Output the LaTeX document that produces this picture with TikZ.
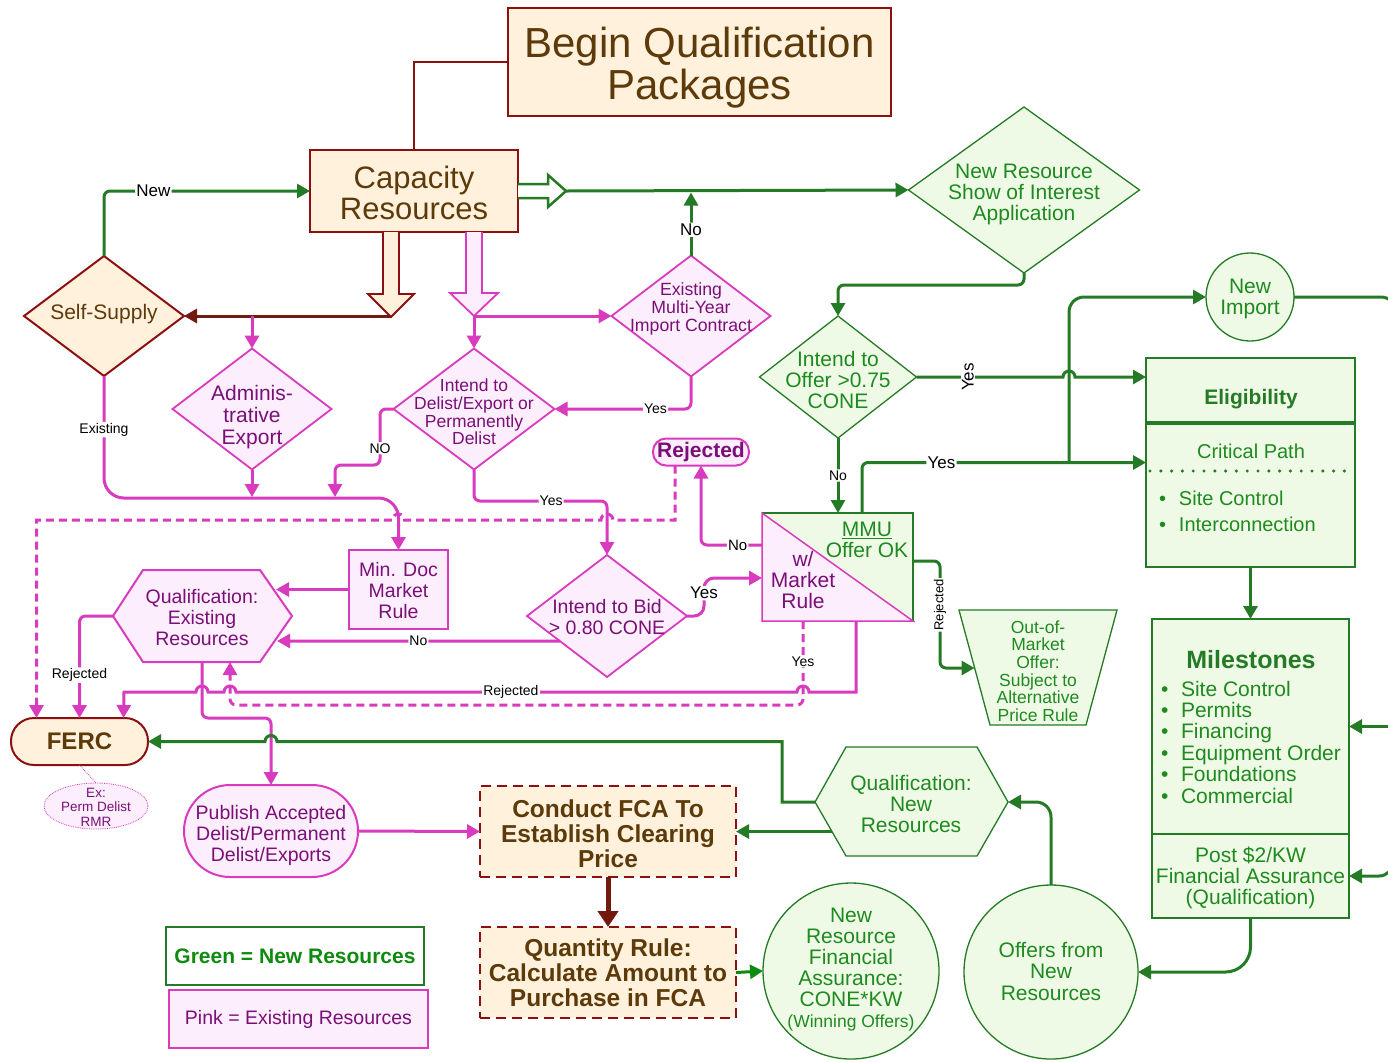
\documentclass[tikz,border=0pt]{standalone}
\usepackage{fontspec}
\setmainfont{Liberation Sans}
\usetikzlibrary{arrows.meta,shapes.geometric,calc}
\definecolor{dred}{HTML}{8B1010}
\definecolor{brn}{HTML}{5C3A0A}
\definecolor{cream}{HTML}{FFF1DC}
\definecolor{gline}{HTML}{257A25}
\definecolor{gtext}{HTML}{1F8A1F}
\definecolor{gfill}{HTML}{EEFAE6}
\definecolor{pline}{HTML}{D93BBE}
\definecolor{pfill}{HTML}{FCEEFC}
\definecolor{ptext}{HTML}{7A0F78}
\definecolor{fcared}{HTML}{721A10}
\definecolor{brightg}{HTML}{0E8A0E}
\newcommand{\fsz}[2]{\fontsize{#1}{#2}\selectfont}
\tikzset{
  every node/.style={inner sep=0pt, outer sep=0pt},
  tipA/.style={-{Triangle[length=13pt,width=14pt]}},
  gcon/.style={draw=gline, line width=3pt, rounded corners=6pt, tipA},
  pcon/.style={draw=pline, line width=3pt, rounded corners=6pt, tipA},
  lbl/.style={fill=white, text=black, inner sep=1.2pt},
  gdia/.style={diamond, draw=gline, fill=gfill, line width=1.3pt},
  pdia/.style={diamond, draw=pline, fill=pfill, line width=1.8pt},
  gtxt/.style={text=gtext, align=center},
  ptxt/.style={text=ptext, align=center},
  btxt/.style={text=brn, align=center},
  gbox/.style={draw=gline, fill=gfill, line width=1.3pt},
  pbox/.style={draw=pline, fill=pfill, line width=2pt},
  cbox/.style={draw=dred, fill=cream, line width=2pt},
  dashy/.style={dash pattern=on 8pt off 5pt},
}
\begin{document}
\begin{tikzpicture}[x=1pt,y=-1pt]
\useasboundingbox (0,0) rectangle (1388,1061);
\fill[white] (0,0) rectangle (1388,1061);

% ---------- top boxes ----------
\node[cbox, minimum width=383pt, minimum height=108pt] (begin) at (699.5,62) {};
\node[btxt, font=\fsz{42}{42}] (begint) at (699.5,68) {Begin Qualification\\Packages};
\node[cbox, minimum width=208pt, minimum height=82pt] (cap) at (414,191) {};
\node[btxt, font=\fsz{31}{31}] (capt) at (414,193) {Capacity\\Resources};
\draw[dred, line width=1.5pt] (begin.west) -| (cap.north);

% ---------- diamonds ----------
\node[diamond, cbox, minimum width=160pt, minimum height=120pt] (ss) at (104,316) {};
\node[btxt, font=\fsz{21}{21}] (sst) at (104,314) {Self-Supply};

\node[gdia, minimum width=231pt, minimum height=166pt] (nrs) at (1024,190) {};
\node[gtxt, font=\fsz{21}{21}] (nrst) at (1024,194) {New Resource\\Show of Interest\\Application};

\node[pdia, minimum width=159pt, minimum height=121pt] (emc) at (691,316) {};
\node[ptxt, font=\fsz{17.7}{18}] (emct) at (691,309) {Existing\\Multi-Year\\Import Contract};

\node[pdia, minimum width=159pt, minimum height=121pt] (admin) at (252,409) {};
\node[ptxt, font=\fsz{21}{22}] (admint) at (252,417) {Adminis-\\trative\\Export};

\node[pdia, minimum width=161pt, minimum height=121pt] (del) at (474,409) {};
\node[ptxt, font=\fsz{17.5}{17.7}] (delt) at (474,412) {Intend to\\Delist/Export or\\Permanently\\Delist};

\node[pdia, minimum width=160pt, minimum height=122pt] (bid) at (607,616) {};
\node[ptxt, font=\fsz{19.5}{21}] (bidt) at (607,617) {Intend to Bid\\> 0.80 CONE};

\node[gdia, minimum width=157pt, minimum height=122pt] (io) at (838,377) {};
\node[gtxt, font=\fsz{21}{21}] (iot) at (838,380) {Intend to\\Offer >0.75\\CONE};

% ---------- pink boxes ----------
\node[draw=pline, fill=pfill, line width=2pt, rounded corners=13pt, minimum width=96pt, minimum height=27pt, text=ptext, font=\bfseries\fsz{21}{21}] (rej) at (701,452) {Rejected};
\node[pbox, minimum width=99pt, minimum height=79pt] (md) at (398.5,589.5) {};
\node[ptxt, font=\fsz{19.5}{21}] (mdt) at (398.5,591) {Min. Doc\\Market\\Rule};
\draw[pbox] (113,616) -- (143,570) -- (260,570) -- (292,616) -- (260,662) -- (143,662) -- cycle;
\node[ptxt, font=\fsz{19.5}{21}] (qe) at (202,618) {Qualification:\\Existing\\Resources};
\node[pbox, rounded corners=46pt, minimum width=174pt, minimum height=92pt] (pub) at (271,831) {};
\node[ptxt, font=\fsz{19.5}{21}] (pubt) at (271,835) {Publish Accepted\\Delist/Permanent\\Delist/Exports};

% ---------- FERC ----------
\node[cbox, rounded corners=23pt, minimum width=137pt, minimum height=47pt, text=brn, font=\bfseries\fsz{24}{24}] (ferc) at (79.5,741.5) {FERC};
\node[ellipse, draw=pline, densely dotted, fill=pfill, line width=0.8pt, minimum width=104pt, minimum height=46pt] (ex) at (96,806) {};
\node[ptxt, font=\fsz{13.5}{14.5}] (ext) at (96,807) {Ex:\\Perm Delist\\RMR};
\draw[pline, densely dotted, line width=0.8pt] (ferc.south) -- (ex.north);

% ---------- MMU ----------
\node[minimum width=151pt, minimum height=108pt] (mmu) at (837.5,567) {};
\fill[pfill] (mmu.north west) -- (mmu.south east) -- (mmu.south west) -- cycle;
\fill[gfill] (mmu.north west) -- (mmu.north east) -- (mmu.south east) -- cycle;
\draw[gline, line width=1.3pt] (mmu.north west) -- (mmu.north east) -- (mmu.south east);
\draw[pline, line width=1.5pt] (mmu.north west) -- (mmu.south west) -- (mmu.south east) -- cycle;
\node[gtxt, font=\fsz{21}{21}] (mmut1) at (867,540) {\underline{MMU}\\Offer OK};
\node[ptxt, font=\fsz{21}{21}] (mmut2) at (803,580) {w/\\Market\\Rule};

% ---------- green right side ----------
\node[circle, gbox, minimum size=88pt] (ni) at (1250,297) {};
\node[gtxt, font=\fsz{21}{21}] (nit) at (1250,299) {New\\Import};

\node[gbox, minimum width=209pt, minimum height=209pt] (elig) at (1250.5,462.5) {};
\draw[gline, line width=3.5pt] ($(elig.north west)+(0,65)$) -- ($(elig.north east)+(0,65)$);
\draw[gline, line width=3.4pt, line cap=round, dash pattern=on 0pt off 10.8pt] ($(elig.north west)+(4,113)$) -- ($(elig.north east)+(0,113)$);
\node[text=gline, font=\bfseries\fsz{21}{21}] (eligh) at (1251,399) {Eligibility};
\node[gtxt, font=\fsz{20}{20}] (eligc) at (1251,451) {Critical Path};
\node[text=gtext, align=left, anchor=west, font=\fsz{20}{26}] (eligl) at (1159,511) {\makebox[20pt][l]{\textbullet}Site Control\\\makebox[20pt][l]{\textbullet}Interconnection};

\node[gbox, minimum width=197pt, minimum height=215pt] (ms) at (1250.5,726.5) {};
\node[gbox, minimum width=197pt, minimum height=84pt] (post) at (1250.5,876) {};
\node[gtxt, font=\fsz{21}{21}] (postt) at (1250.5,878) {Post \$2/KW\\Financial Assurance\\(Qualification)};
\node[text=gline, font=\bfseries\fsz{25}{25}] (msh) at (1251,660) {Milestones};
\node[text=gtext, align=left, anchor=west, font=\fsz{21}{21.4}] (msl) at (1161,742) {\makebox[20pt][l]{\textbullet}Site Control\\\makebox[20pt][l]{\textbullet}Permits\\\makebox[20pt][l]{\textbullet}Financing\\\makebox[20pt][l]{\textbullet}Equipment Order\\\makebox[20pt][l]{\textbullet}Foundations\\\makebox[20pt][l]{\textbullet}Commercial};

\draw[gbox] (959,610) -- (1117,610) -- (1086,725) -- (990,725) -- cycle;
\node[gtxt, font=\fsz{17.5}{17.6}] (oom) at (1038,671) {Out-of-\\Market\\Offer:\\Subject to\\Alternative\\Price Rule};

\draw[gbox] (815,802) -- (846,747) -- (977,747) -- (1008,802) -- (977,856) -- (846,856) -- cycle;
\node[gtxt, font=\fsz{21}{21}] (qn) at (911,804) {Qualification:\\New\\Resources};

\node[circle, gbox, minimum size=174pt] (ofr) at (1051,972) {};
\node[gtxt, font=\fsz{21}{21.5}] (ofrt) at (1051,971) {Offers from\\New\\Resources};
\node[circle, gbox, minimum size=176pt] (nrfa) at (851,971) {};
\node[gtxt, font=\fsz{21}{21}] (nrfat) at (851,970) {New\\Resource\\Financial\\Assurance:\\CONE*KW\\{\fsz{17.5}{20}(Winning Offers)}};

% ---------- FCA boxes ----------
\node[cbox, line width=1.8pt, dash pattern=on 10pt off 6pt, minimum width=256pt, minimum height=91pt] (fca) at (608,831.5) {};
\node[btxt, font=\bfseries\fsz{24.5}{25}] (fcat) at (608,834) {Conduct FCA To\\Establish Clearing\\Price};
\node[cbox, line width=1.8pt, dash pattern=on 10pt off 6pt, minimum width=256pt, minimum height=91pt] (qr) at (608,972.5) {};
\node[btxt, font=\bfseries\fsz{24.5}{25}] (qrt) at (608,973) {Quantity Rule:\\Calculate Amount to\\Purchase in FCA};

% ---------- legend ----------
\node[draw=gline, line width=1.5pt, fill=white, minimum width=258pt, minimum height=58pt, text=brightg, font=\bfseries\fsz{21}{21}] (lgg) at (295,956) {Green = New Resources};
\node[pbox, line width=2.5pt, minimum width=259pt, minimum height=58pt, text=ptext, font=\fsz{19.5}{19.5}] (lgp) at (298.5,1019) {Pink = Existing Resources};

% ---------- hollow arrows ----------
\draw[dred, fill=cream, line width=1.8pt] (383,232) -- (383,294) -- (368,294) -- (391,317) -- (414,294) -- (399,294) -- (399,232);
\draw[pline, fill=pfill, line width=1.8pt] (466,232) -- (466,293) -- (450,293) -- (474,316) -- (498,293) -- (482,293) -- (482,232);
\draw[gline, fill=white, line width=2.5pt] (518,184) -- (548,184) -- (548,175) -- (566,191) -- (548,207) -- (548,198) -- (518,198);
\coordinate (ctip) at (391,316);
\coordinate (cbr) at (252,316);
\coordinate (ptip) at (474,316);
\coordinate (gtip) at (566,191);

% ---------- connectors ----------
\draw[draw=fcared, line width=3pt, tipA] (ctip) -- (ss.east);
\draw[pcon] (cbr) -- (admin.north);
\draw[pcon] (ptip) -- (emc.west);
\draw[pcon] (ptip) -- (del.north);
\draw[gcon] (gtip) -- (nrs.west);
\draw[gcon] (ss.north) |- node[lbl, pos=0.62, font=\fsz{17}{17}] (lnew) {New} (cap.west);
\draw[gcon, shorten >=1.5pt] (emc.north) -- node[lbl, pos=0.4, font=\fsz{17}{17}] (lno1) {No} (emc.north |- gtip);
\draw[pcon] (emc.south) |- node[lbl, pos=0.63, font=\fsz{14}{14}] (lyes1) {Yes} (del.east);

\coordinate (j1) at (252,497);
\draw[pcon] (admin.south) -- (j1);
\draw[pcon, rounded corners=20pt] (ss.south) -- node[lbl, pos=0.44, font=\fsz{14}{14}] (lexi) {Existing} (104,498) -- (398.5,498) -- (md.north);
\coordinate (j2) at (335,497);
\draw[pcon] (del.west) -- (380,409) -- node[lbl, pos=0.7, font=\fsz{14}{14}] (lno2) {NO} (380,465) -- (335,465) -- (j2);
\draw[pcon] (del.south) -- (474,501) -- node[lbl, pos=0.58, font=\fsz{14}{14}] (lyes2) {Yes} (607,501) -- (bid.north);

\draw[pcon, dashy, sharp corners] ([xshift=-26pt]rej.south) -- (675,520) -- (613,520) arc[start angle=0, end angle=-180, radius=6] -- (404.5,520) arc[start angle=0, end angle=-180, radius=6] -- (36.5,520) -- ([xshift=-43pt]ferc.north);

\coordinate (qew) at (113,616);
\draw[pcon] (qew) -| node[lbl, pos=0.79, font=\fsz{14}{14}] (lrej1) {Rejected} (ferc.north);
\coordinate (qene) at (276,589.5);
\draw[pcon] (md.west) -- (qene);
\coordinate (bidsw) at ($(bid.west)!0.41!(bid.south)$);
\coordinate (qese) at (277,641);
\draw[pcon] (bidsw) -- node[lbl, font=\fsz{14}{14}] (lno3) {No} (qese);

\coordinate (mmuw2) at ($(mmu.north west)+(0,65)$);
\draw[pcon, rounded corners=10pt] (bid.east) -- (704,616) -- node[lbl, pos=0.6, font=\fsz{17}{17}] (lyes3) {Yes} (704,578) -- (mmuw2);
\coordinate (mmuw1) at ($(mmu.north west)+(0,32)$);
\draw[pcon] (mmuw1) -| node[lbl, pos=0.2, font=\fsz{15}{15}] (lno4) {No} (rej.south);

\coordinate (mmun2) at ($(mmu.north west)+(100,0)$);
\draw[gcon] (mmun2) |- node[lbl, pos=0.64, font=\fsz{17}{17}] (lyes5) {Yes} (elig.west);
\draw[gcon] (nrs.south) -- ([yshift=-12pt]nrs.south) -| (io.north);
\draw[gcon] (io.south) -- node[lbl, pos=0.5, font=\fsz{14}{14}] (lno5) {No} (io.south |- mmu.north);
\draw[gcon, sharp corners] (io.east) -- node[lbl, rotate=90, pos=0.35, font=\fsz{17}{17}] (lyes4) {Yes} (1063,377) arc[start angle=180, end angle=360, radius=6] -- (io.east -| elig.west);

\coordinate (jn) at (1069,462.5);
\draw[gcon, rounded corners=15pt] (jn) |- (ni.west);
\coordinate (offA) at (1396,340);
\draw[draw=gline, line width=3pt, rounded corners=15pt] (ni.east) -| (offA);
\draw[gcon] (elig.south) -- (ms.north);
\coordinate (offB) at (1396,726.5);
\draw[gcon] (offB) -- (ms.east);
\coordinate (offC) at (1393,850);
\draw[gcon, rounded corners=14pt] (offC) |- (post.east);
\draw[gcon, rounded corners=25pt] (post.south) |- (ofr.east);

\coordinate (mmue) at ($(mmu.north east)+(0,48)$);
\coordinate (oomw) at (974.6,668);
\draw[gcon] (mmue) -- (940,561) -- node[lbl, rotate=90, pos=0.41, font=\fsz{13}{13}] (lrej2) {Rejected} (940,668) -- (oomw);

\coordinate (mmus1) at ($(mmu.south west)+(41,0)$);
\coordinate (mmus2) at ($(mmu.south west)+(94,0)$);
\coordinate (qes2) at (230,662);
\coordinate (qes1) at (202,662);
\draw[pcon, dashy] (mmus1) -- node[lbl, pos=0.48, font=\fsz{14}{14}] (lyes6) {Yes} (803,705) -| (qes2);
\draw[pcon, sharp corners] (mmus2) -- (856,692) -- (809,692) arc[start angle=0, end angle=-180, radius=6] -- node[lbl, pos=0.51, font=\fsz{14}{14}] (lrej3) {Rejected} (236,692) arc[start angle=0, end angle=-180, radius=6] -- (208,692) arc[start angle=0, end angle=-180, radius=6] -- (124,692) -- ([xshift=44pt]ferc.north);
\draw[pcon] (qes1) -- (202,718) -- (271,718) -- (pub.north);

\coordinate (qnw) at (815,802);
\coordinate (qne) at (1008,802);
\coordinate (qnsw) at (832,831.5);
\draw[gcon, sharp corners] (qnw) -- (782,802) -- (782,741.5) -- (277,741.5) arc[start angle=0, end angle=-180, radius=6] -- (ferc.east);
\draw[gcon] (qnsw) -- (fca.east);
\draw[gcon, rounded corners=15pt] (ofr.north) |- (qne);
\draw[pcon] (pub.east) -- (fca.west);
\draw[draw=fcared, line width=5pt, -{Triangle[length=16pt,width=20pt]}] (fca.south) -- (qr.north);
\draw[draw=brightg, line width=3pt, tipA] (qr.east) -- (nrfa.west);
\end{tikzpicture}
\end{document}
